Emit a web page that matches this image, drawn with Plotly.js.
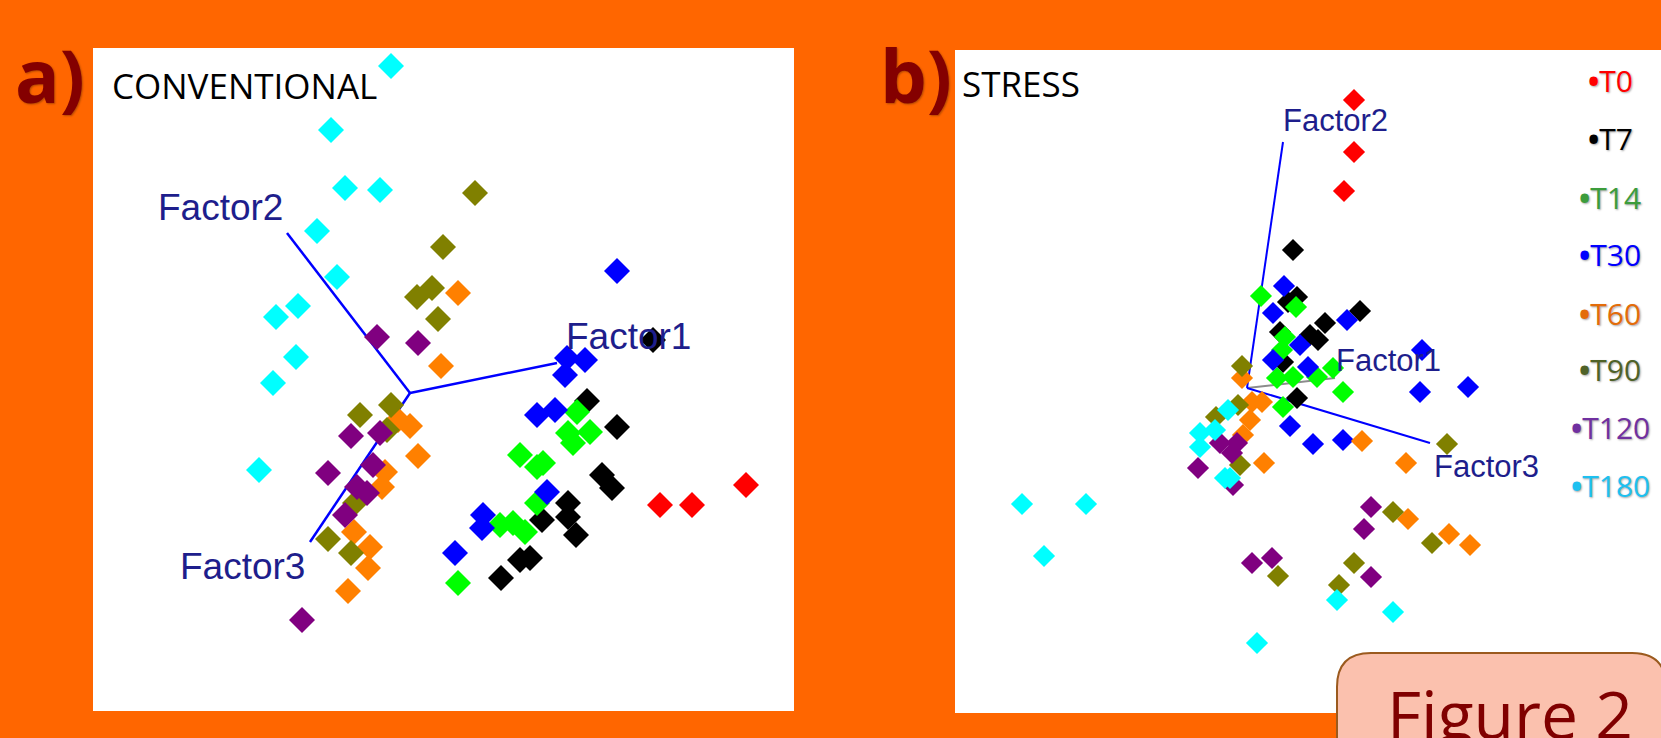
<!DOCTYPE html>
<html>
<head>
<meta charset="utf-8">
<script src="https://cdn.plot.ly/plotly-3.0.1.min.js"></script>
<style>
  html, body { margin: 0; padding: 0; background: #FF6600; }
  #chart { width: 1661px; height: 738px; }
</style>
</head>
<body>
<div id="chart"></div>
<script>
// Sampling times (days) shown in both biplots
const groups = ['T0', 'T7', 'T14', 'T30', 'T60', 'T90', 'T120', 'T180'];

// a) CONVENTIONAL: sample scores on the first two plotted dimensions
const convT0x = [2.50, 2.82, 3.36];
const convT0y = [-1.12, -1.12, -0.92];
const convT7x = [2.43, 1.77, 2.07, 1.92, 2.02, 1.58, 1.58, 1.32, 1.66, 1.20, 1.10, 0.91];
const convT7y = [0.53, -0.08, -0.34, -0.82, -0.95, -1.10, -1.24, -1.27, -1.42, -1.65, -1.67, -1.85];
const convT14x = [1.67, 1.58, 1.80, 1.63, 1.10, 1.33, 1.27, 1.27, 0.90, 1.03, 1.15, 0.48];
const convT14y = [-0.19, -0.40, -0.39, -0.50, -0.62, -0.70, -0.74, -1.10, -1.32, -1.30, -1.39, -1.90];
const convT30x = [2.07, 1.57, 1.75, 1.55, 1.27, 1.45, 1.37, 0.73, 0.72, 0.45];
const convT30y = [1.22, 0.35, 0.33, 0.18, -0.22, -0.17, -0.99, -1.22, -1.35, -1.60];
const convT60x = [0.48, 0.31, 0.00, -0.12, 0.08, -0.25, -0.28, -0.56, -0.40, -0.42, -0.62];
const convT60y = [1.00, 0.27, -0.33, -0.27, -0.63, -0.79, -0.94, -1.39, -1.54, -1.75, -1.98];
const convT90x = [0.65, 0.33, 0.22, 0.07, 0.28, -0.50, -0.19, -0.23, -0.55, -0.82, -0.59];
const convT90y = [2.00, 1.46, 1.05, 0.96, 0.74, -0.22, -0.12, -0.37, -1.10, -1.46, -1.60];
const convT120x = [-0.33, 0.08, -0.59, -0.30, -0.82, -0.37, -0.53, -0.43, -0.65, -1.08];
const convT120y = [0.56, 0.50, -0.43, -0.40, -0.80, -0.72, -0.94, -1.00, -1.22, -2.27];
const convT180x = [-0.19, -0.79, -0.65, -0.30, -0.93, -0.73, -1.12, -1.34, -1.14, -1.37, -1.51];
const convT180y = [3.27, 2.63, 2.05, 2.03, 1.62, 1.16, 0.87, 0.76, 0.36, 0.10, -0.77];

// a) CONVENTIONAL: factor loading vectors
const factorNames = ['Factor1', 'Factor2', 'Factor3'];
const convFactorX = [1.47, -1.23, -1.00];
const convFactorY = [0.30, 1.60, -1.49];

// b) STRESS: sample scores
const strT0x = [1.07, 1.07, 0.97];
const strT0y = [2.88, 2.36, 1.97];
const strT7x = [0.46, 0.50, 0.41, 1.13, 0.78, 0.33, 0.63, 0.71, 0.36, 0.50];
const strT7y = [1.38, 0.91, 0.86, 0.77, 0.65, 0.56, 0.53, 0.48, 0.26, -0.10];
const strT14x = [0.14, 0.49, 0.38, 0.35, 0.30, 0.46, 0.70, 0.86, 0.96, 0.36];
const strT14y = [0.92, 0.81, 0.51, 0.38, 0.10, 0.11, 0.11, 0.20, -0.04, -0.19];
const strT30x = [0.37, 0.26, 1.00, 0.53, 0.26, 0.61, 1.75, 1.73, 2.21, 0.43, 0.66, 0.96];
const strT30y = [1.02, 0.75, 0.68, 0.43, 0.28, 0.21, 0.38, -0.04, 0.01, -0.38, -0.56, -0.52];
const strT60x = [-0.05, 0.05, 0.15, 0.03, -0.04, 0.17, 1.15, 1.59, 1.61, 2.02, 2.23];
const strT60y = [0.10, -0.14, -0.14, -0.32, -0.47, -0.75, -0.53, -0.75, -1.31, -1.46, -1.57];
const strT90x = [-0.05, -0.09, -0.31, -0.07, 2.00, 1.46, 1.85, 1.07, 0.92, 0.31];
const strT90y = [0.22, -0.17, -0.29, -0.77, -0.56, -1.24, -1.55, -1.75, -1.97, -1.88];
const strT120x = [-0.27, -0.10, -0.15, -0.49, -0.14, 1.24, 1.17, 0.05, 0.25, 1.24];
const strT120y = [-0.55, -0.55, -0.65, -0.80, -0.97, -1.19, -1.41, -1.75, -1.70, -1.89];
const strT180x = [-0.19, -0.32, -0.47, -0.47, -0.22, -0.17, -2.25, -1.61, -2.03, 0.90, 1.46, 0.10];
const strT180y = [-0.22, -0.42, -0.45, -0.59, -0.90, -0.90, -1.16, -1.16, -1.68, -2.12, -2.24, -2.55];

// b) STRESS: factor loading vectors
const strFactorX = [0.88, 0.36, 1.83];
const strFactorY = [0.10, 2.46, -0.55];

// ---------------------------------------------------------------------------
const W = 1661, H = 738;
const px = v => v / W;
const py = v => 1 - v / H;

const markerColors = ['#FF0000', '#000000', '#00FF00', '#0000FF', '#FF8000', '#808000', '#800080', '#00FFFF'];
const legendColors = ['#FF0000', '#000000', '#3C9C3C', '#0000FF', '#E36C0A', '#4F6228', '#7030A0', '#1EC0F0'];

const convX = [convT0x, convT7x, convT14x, convT30x, convT60x, convT90x, convT120x, convT180x];
const convY = [convT0y, convT7y, convT14y, convT30y, convT60y, convT90y, convT120y, convT180y];
const strX = [strT0x, strT7x, strT14x, strT30x, strT60x, strT90x, strT120x, strT180x];
const strY = [strT0y, strT7y, strT14y, strT30y, strT60y, strT90y, strT120y, strT180y];

const traces = [];

// loading vectors first, so the sample markers sit on top
factorNames.forEach((f, i) => {
  traces.push({
    type: 'scatter', mode: 'lines', xaxis: 'x', yaxis: 'y', hoverinfo: 'skip',
    x: [0, convFactorX[i]], y: [0, convFactorY[i]],
    line: { color: '#0000FF', width: 2.5 }
  });
  traces.push({
    type: 'scatter', mode: 'lines', xaxis: 'x2', yaxis: 'y2', hoverinfo: 'skip',
    x: [0, strFactorX[i]], y: [0, strFactorY[i]],
    line: { color: i === 0 ? '#8C8C8C' : '#0000FF', width: 2 }
  });
});

groups.forEach((g, i) => {
  traces.push({
    type: 'scatter', mode: 'markers', name: g, xaxis: 'x', yaxis: 'y',
    x: convX[i], y: convY[i],
    marker: { symbol: 'diamond', size: 20, color: markerColors[i], line: { width: 0 } }
  });
  traces.push({
    type: 'scatter', mode: 'markers', name: g, xaxis: 'x2', yaxis: 'y2',
    x: strX[i], y: strY[i],
    marker: { symbol: 'diamond', size: 17, color: markerColors[i], line: { width: 0 } }
  });
});

const hidden = {
  showgrid: false, zeroline: false, showline: false, showticklabels: false,
  ticks: '', fixedrange: true
};

const labelFont = (size) => ({ family: 'Liberation Sans, Arial, sans-serif', size: size, color: '#1E1E8C' });

const annotations = [];

// factor labels
const convLabelPos = [[2.18, 0.57], [-1.90, 1.86], [-1.68, -1.73]];
const strLabelPos = [[1.41, 0.28], [0.88, 2.68], [2.39, -0.78]];
factorNames.forEach((f, i) => {
  annotations.push({
    xref: 'x', yref: 'y', x: convLabelPos[i][0], y: convLabelPos[i][1],
    text: f, showarrow: false, xanchor: 'center', yanchor: 'middle', font: labelFont(37)
  });
  annotations.push({
    xref: 'x2', yref: 'y2', x: strLabelPos[i][0], y: strLabelPos[i][1],
    text: f, showarrow: false, xanchor: 'center', yanchor: 'middle', font: labelFont(31)
  });
});

// panel letters and titles
const letterFont = { family: 'Open Sans, sans-serif', size: 74, color: '#840000', weight: 700,
                     shadow: '1px 1px 2px rgba(0,0,0,0.3)' };
annotations.push({ xref: 'paper', yref: 'paper', x: px(50), y: py(74), text: 'a)', showarrow: false,
                   xanchor: 'center', yanchor: 'middle', font: letterFont });
annotations.push({ xref: 'paper', yref: 'paper', x: px(916), y: py(74), text: 'b)', showarrow: false,
                   xanchor: 'center', yanchor: 'middle', font: letterFont });

const titleFont = { family: 'Open Sans, sans-serif', size: 35, color: '#000000' };
annotations.push({ xref: 'paper', yref: 'paper', x: px(110), y: py(86), text: 'CONVENTIONAL', showarrow: false,
                   xanchor: 'left', yanchor: 'middle', font: titleFont });
annotations.push({ xref: 'paper', yref: 'paper', x: px(960), y: py(83), text: 'STRESS', showarrow: false,
                   xanchor: 'left', yanchor: 'middle', font: titleFont });

// legend column
const legendRowY = [81, 139, 197, 254, 313, 370, 427, 485];
groups.forEach((g, i) => {
  annotations.push({
    xref: 'paper', yref: 'paper', x: px(1610), y: py(legendRowY[i]),
    text: '<b>\u2022</b>' + g, showarrow: false,
    xanchor: 'center', yanchor: 'middle',
    font: { family: 'Open Sans, sans-serif', size: 30, color: legendColors[i],
            shadow: '1px 1px 2px rgba(0,0,0,0.35)' }
  });
});

// figure tag
annotations.push({ xref: 'paper', yref: 'paper', x: px(1510), y: py(713), text: 'Figure 2', showarrow: false,
                   xanchor: 'center', yanchor: 'middle',
                   font: { family: 'Open Sans, sans-serif', size: 66, color: '#800000' } });

// rounded tag box
const bx0 = 1337, by0 = 653, bx1 = 1666, by1 = 770, r = 34;
const tagPath = [
  `M ${px(bx0)},${py(by1)}`,
  `L ${px(bx0)},${py(by0 + r)}`,
  `Q ${px(bx0)},${py(by0)} ${px(bx0 + r)},${py(by0)}`,
  `L ${px(bx1 - r)},${py(by0)}`,
  `Q ${px(bx1)},${py(by0)} ${px(bx1)},${py(by0 + r)}`,
  `L ${px(bx1)},${py(by1)} Z`
].join(' ');

const layout = {
  width: W, height: H,
  margin: { l: 0, r: 0, t: 0, b: 0, pad: 0 },
  paper_bgcolor: '#FF6600',
  plot_bgcolor: '#FFFFFF',
  showlegend: false,
  xaxis: Object.assign({ domain: [px(93), px(794)], range: [-3.17, 3.84], anchor: 'y' }, hidden),
  yaxis: Object.assign({ domain: [1 - 711 / H, 1 - 48 / H], range: [-3.18, 3.45], anchor: 'x' }, hidden),
  xaxis2: Object.assign({ domain: [px(955), 1], range: [-2.92, 4.14], anchor: 'y2' }, hidden),
  yaxis2: Object.assign({ domain: [1 - 713 / H, 1 - 50 / H], range: [-3.25, 3.38], anchor: 'x2' }, hidden),
  shapes: [{
    type: 'path', xref: 'paper', yref: 'paper', path: tagPath,
    fillcolor: '#FBC1AE', line: { color: '#9B5A1E', width: 2 }, layer: 'above'
  }],
  annotations: annotations
};

Plotly.newPlot('chart', traces, layout, { displayModeBar: false, staticPlot: true });
</script>
</body>
</html>
